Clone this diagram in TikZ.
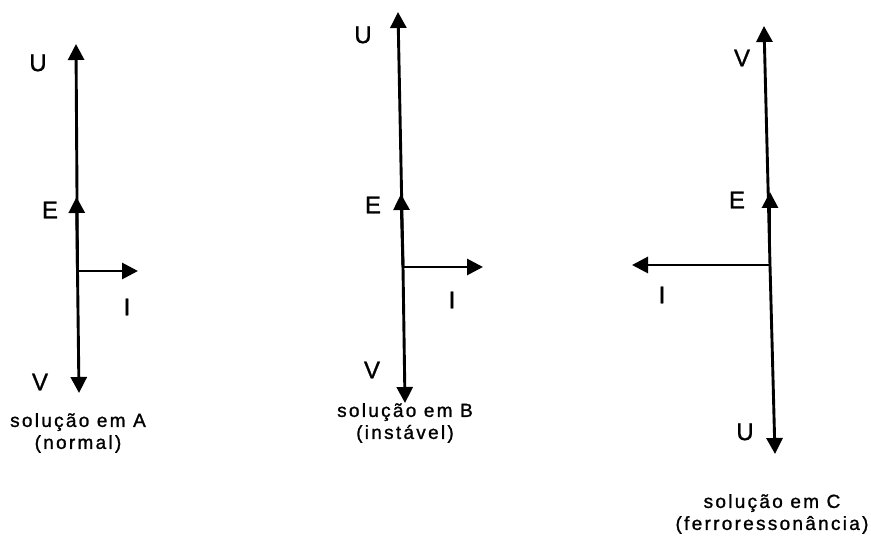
\documentclass[tikz,border=0pt]{standalone}
\usepackage{fontspec}
\setmainfont{Liberation Sans}
\usetikzlibrary{arrows.meta}

\begin{document}
\begin{tikzpicture}[x=1pt,y=-1pt,
  vec/.style={line width=2.9pt,-{Triangle[length=16pt,width=16pt]}},
  lbl/.style={font=\fontsize{24}{26}\selectfont\addfontfeature{FakeBold=1.2},inner sep=0pt},
  capt/.style={font=\fontsize{19}{22}\selectfont\addfontfeature{LetterSpace=12,FakeBold=1.2},align=center,inner sep=0pt}]
  \useasboundingbox (0,0) rectangle (871,537);
  % solucao A
  \coordinate (oA) at (77.5,271);
  \coordinate (uA) at (76,44);
  \coordinate (eA) at (76.5,197);
  \coordinate (vA) at (79,393);
  \coordinate (iA) at (138,271);
  \draw[vec] (oA)--(uA);
  \draw[vec] (oA)--(eA);
  \draw[vec] (oA)--(vA);
  \draw[vec] (oA)--(iA);
  \node[lbl] (lUA) at (38,63) {U};
  \node[lbl] (lEA) at (50,210) {E};
  \node[lbl] (lIA) at (127,307) {I};
  \node[lbl] (lVA) at (40,382) {V};
  \node[capt] (capA) at (78,433) {solução em A\\(normal)};
  % solucao B
  \coordinate (oB) at (403,267);
  \coordinate (uB) at (398,12);
  \coordinate (eB) at (401,194);
  \coordinate (vB) at (405,403);
  \coordinate (iB) at (483,267);
  \draw[vec] (oB)--(uB);
  \draw[vec] (oB)--(eB);
  \draw[vec] (oB)--(vB);
  \draw[vec] (oB)--(iB);
  \node[lbl] (lUB) at (363,35) {U};
  \node[lbl] (lEB) at (373,205) {E};
  \node[lbl] (lIB) at (452,300) {I};
  \node[lbl] (lVB) at (372,370) {V};
  \node[capt] (capB) at (405,423) {solução em B\\(instável)};
  % solucao C
  \coordinate (oC) at (770,265);
  \coordinate (vC) at (764,26);
  \coordinate (eC) at (770,192);
  \coordinate (uC) at (775,454);
  \coordinate (iC) at (632,265);
  \draw[vec] (oC)--(vC);
  \draw[vec] (oC)--(eC);
  \draw[vec] (oC)--(uC);
  \draw[vec] (oC)--(iC);
  \node[lbl] (lVC) at (742,58) {V};
  \node[lbl] (lEC) at (737,200) {E};
  \node[lbl] (lIC) at (662,295) {I};
  \node[lbl] (lUC) at (745,432) {U};
  \node[capt] (capC) at (772,514) {solução em C\\(ferroressonância)};
\end{tikzpicture}
\end{document}
